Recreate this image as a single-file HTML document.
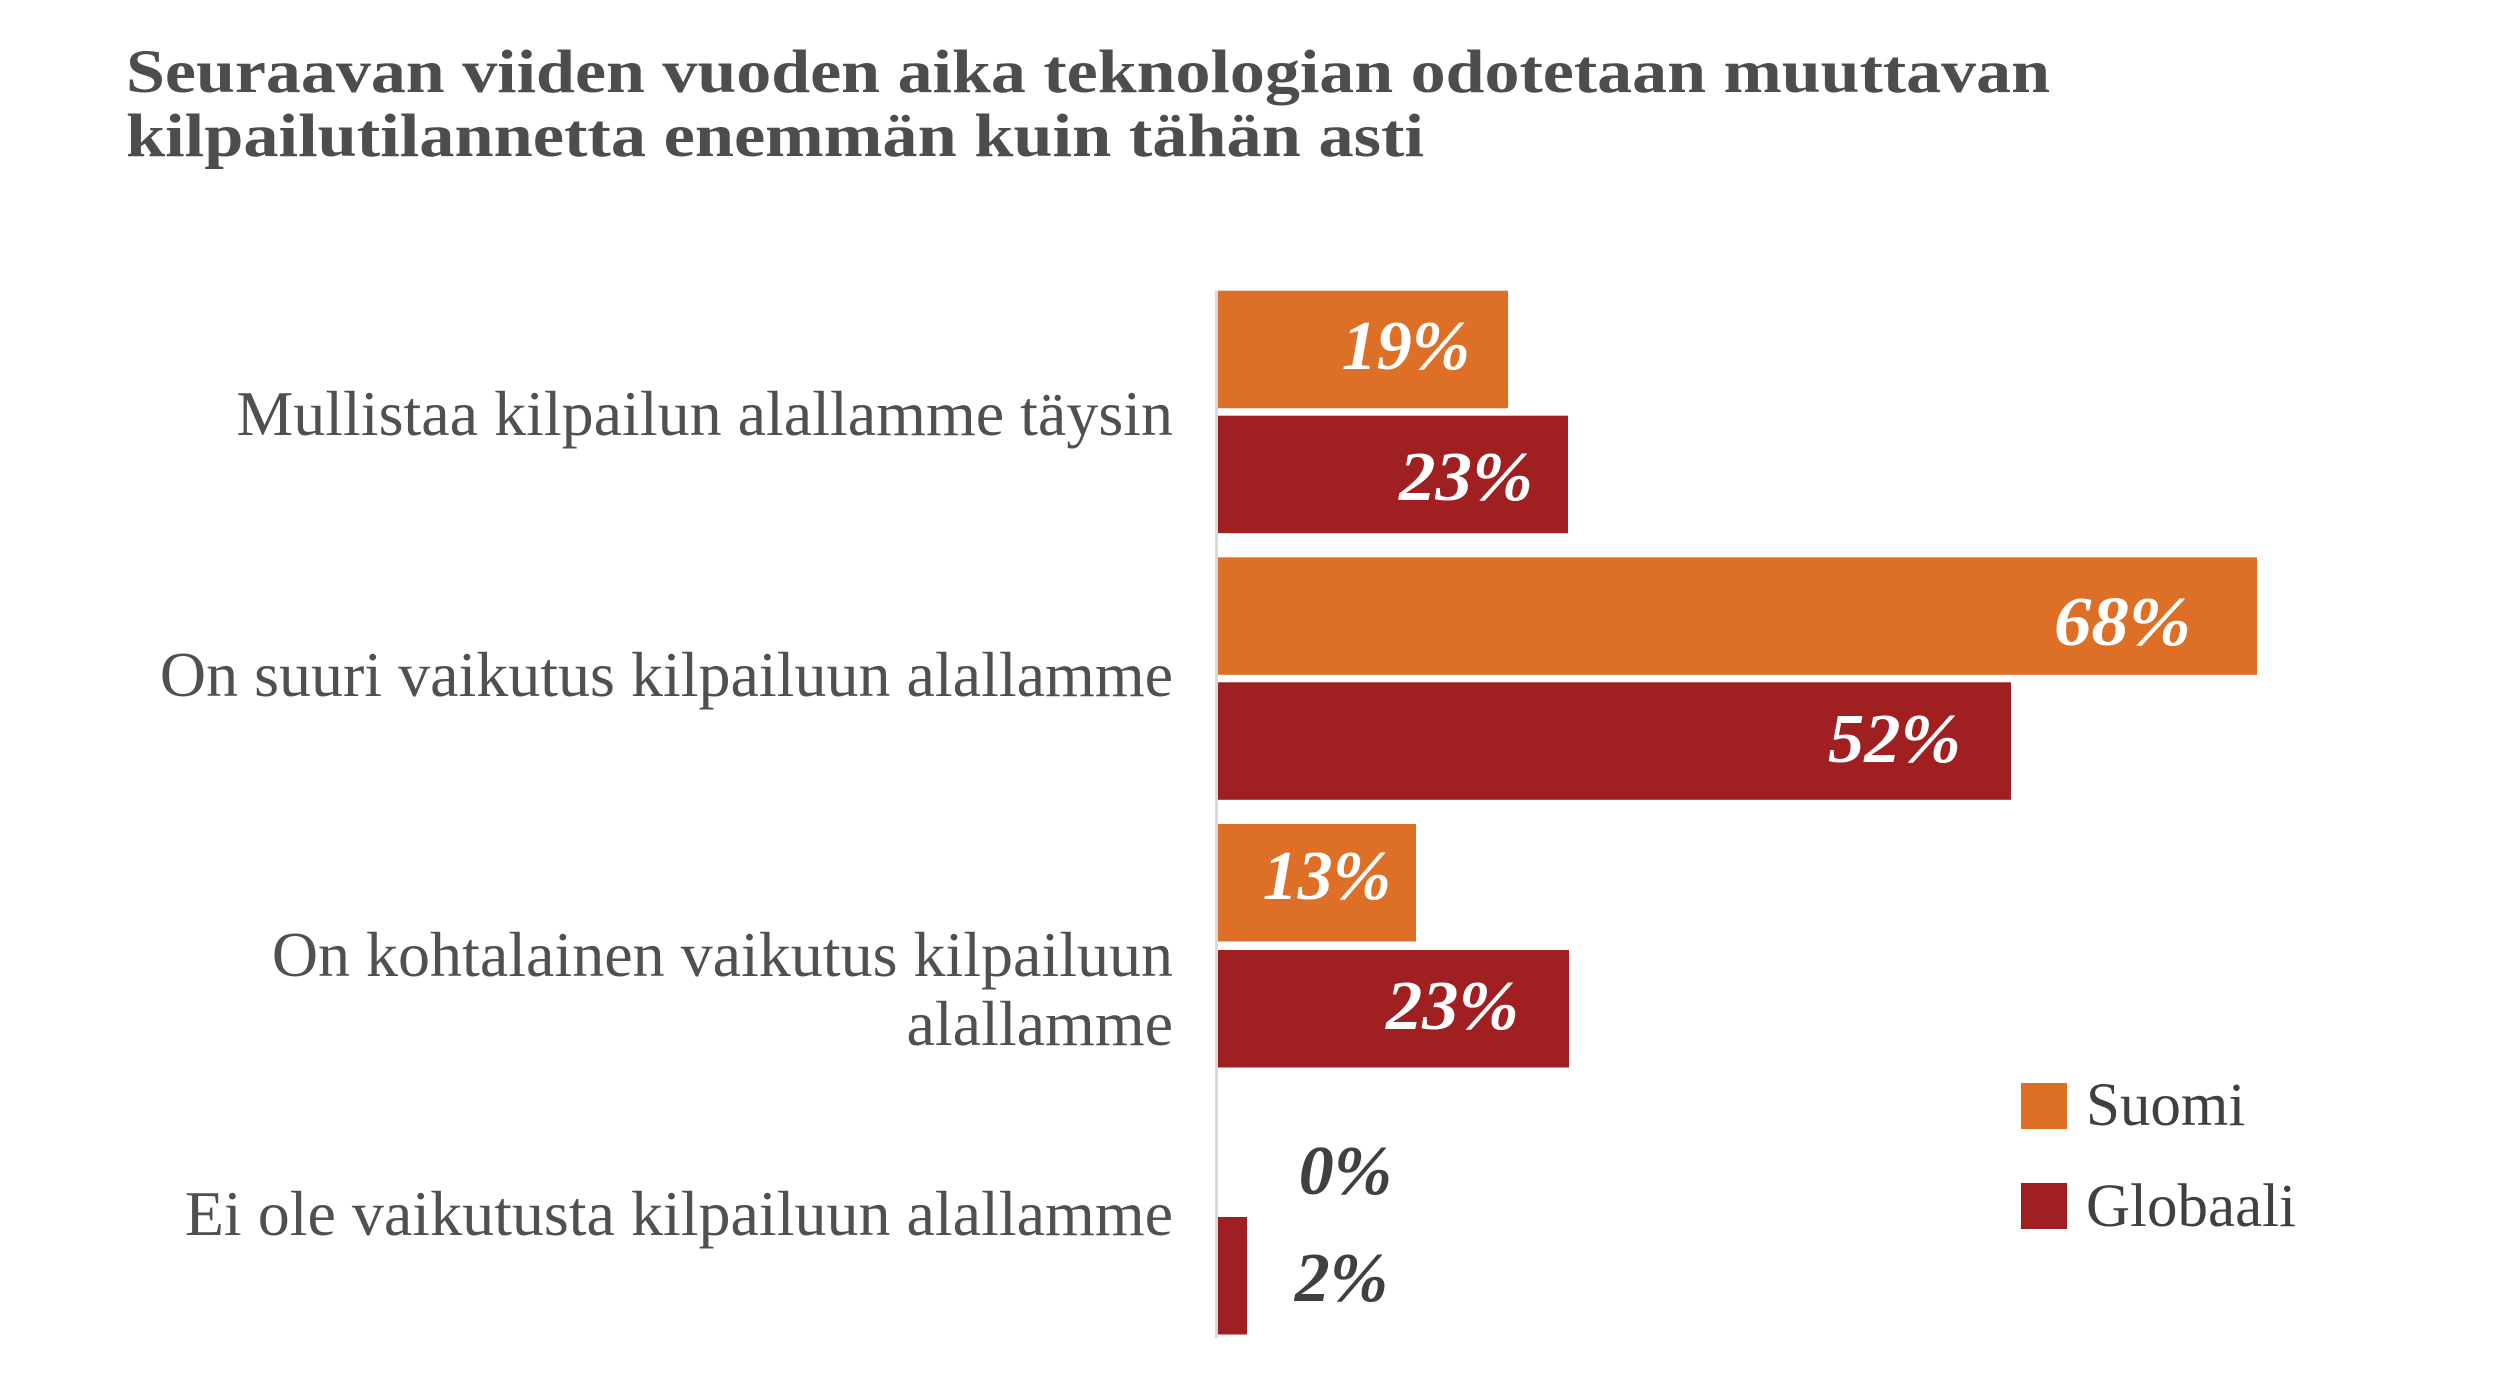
<!DOCTYPE html>
<html>
<head>
<meta charset="utf-8">
<style>
  html, body { margin: 0; padding: 0; background: #ffffff; }
  body { width: 2501px; height: 1376px; overflow: hidden; }
  svg { display: block; }
  .title { font-family: "Liberation Serif", serif; font-weight: bold; font-size: 61px; fill: #4d4d4d; }
  .cat { font-family: "Liberation Serif", serif; font-size: 64px; fill: #505050; }
  .val { font-family: "Liberation Serif", serif; font-weight: bold; font-style: italic; font-size: 70px; }
  .leg { font-family: "Liberation Serif", serif; font-size: 61px; fill: #404040; }
</style>
</head>
<body>
<svg width="2501" height="1376" viewBox="0 0 2501 1376" xmlns="http://www.w3.org/2000/svg">
  <rect x="0" y="0" width="2501" height="1376" fill="#ffffff"/>

  <!-- Title -->
  <text class="title" x="126" y="92" textLength="1924" lengthAdjust="spacingAndGlyphs">Seuraavan viiden vuoden aika teknologian odotetaan muuttavan</text>
  <text class="title" x="126" y="156" textLength="1298" lengthAdjust="spacingAndGlyphs">kilpailutilannetta enemmän kuin tähän asti</text>

  <!-- Bars: Suomi (orange) -->
  <rect x="1218" y="290.7" width="290" height="117.5" fill="#dd7026"/>
  <rect x="1218" y="557.3" width="1039" height="117.5" fill="#dd7026"/>
  <rect x="1218" y="824" width="198" height="117.5" fill="#dd7026"/>

  <!-- Bars: Globaali (dark red) -->
  <rect x="1218" y="415.7" width="350" height="117.5" fill="#a01f21"/>
  <rect x="1218" y="682.3" width="793" height="117.5" fill="#a01f21"/>
  <rect x="1218" y="950" width="351" height="117.5" fill="#a01f21"/>
  <rect x="1218" y="1217" width="29" height="117.5" fill="#a01f21"/>

  <!-- Axis line -->
  <rect x="1215" y="290.7" width="3" height="1047" fill="#d9d9d9"/>

  <!-- Data labels -->
  <text class="val" x="1470" y="369" text-anchor="end" fill="#ffffff">19%</text>
  <text class="val" x="1533" y="500" text-anchor="end" fill="#ffffff" textLength="134" lengthAdjust="spacingAndGlyphs">23%</text>
  <text class="val" x="2191" y="645" text-anchor="end" fill="#ffffff" textLength="137" lengthAdjust="spacingAndGlyphs">68%</text>
  <text class="val" x="1961" y="762" text-anchor="end" fill="#ffffff" textLength="133" lengthAdjust="spacingAndGlyphs">52%</text>
  <text class="val" x="1391" y="899" text-anchor="end" fill="#ffffff">13%</text>
  <text class="val" x="1519" y="1029" text-anchor="end" fill="#ffffff" textLength="133" lengthAdjust="spacingAndGlyphs">23%</text>
  <text class="val" x="1392" y="1194" text-anchor="end" fill="#404040">0%</text>
  <text class="val" x="1388" y="1301" text-anchor="end" fill="#404040">2%</text>

  <!-- Category labels -->
  <text class="cat" x="1173" y="435" text-anchor="end">Mullistaa kilpailun alallamme täysin</text>
  <text class="cat" x="1173" y="696" text-anchor="end">On suuri vaikutus kilpailuun alallamme</text>
  <text class="cat" x="1173" y="976" text-anchor="end">On kohtalainen vaikutus kilpailuun</text>
  <text class="cat" x="1173" y="1045" text-anchor="end">alallamme</text>
  <text class="cat" x="1173" y="1235" text-anchor="end">Ei ole vaikutusta kilpailuun alallamme</text>

  <!-- Legend -->
  <rect x="2021" y="1083" width="46" height="46" fill="#dd7026"/>
  <text class="leg" x="2086" y="1125">Suomi</text>
  <rect x="2021" y="1183" width="46" height="46" fill="#a01f21"/>
  <text class="leg" x="2086" y="1226">Globaali</text>
</svg>
</body>
</html>
